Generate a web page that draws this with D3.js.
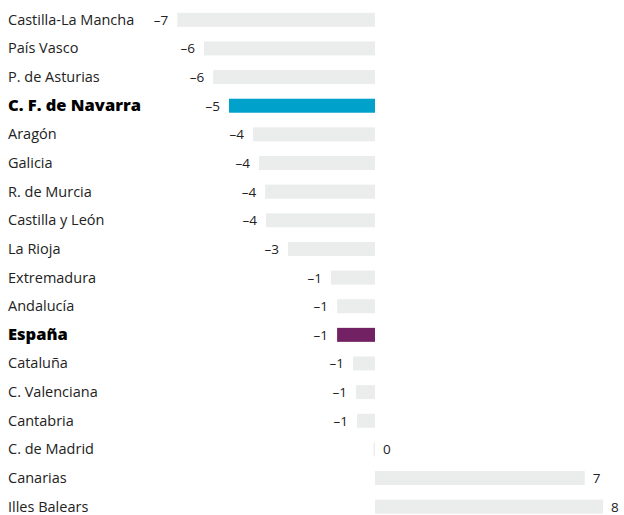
<!DOCTYPE html>
<html lang="es">
<head>
<meta charset="utf-8">
<title>Comunidades</title>
<script src="https://d3js.org/d3.v7.min.js"></script>
<style>
  body { margin: 0; background: #fff; }
  svg text { font-family: "Open Sans", "Noto Sans", sans-serif; }
</style>
</head>
<body>
<script>
// data (labels are rounded, bar lengths are not)
const regions = ["Castilla-La Mancha", "País Vasco", "P. de Asturias", "C. F. de Navarra",
  "Aragón", "Galicia", "R. de Murcia", "Castilla y León", "La Rioja", "Extremadura",
  "Andalucía", "España", "Cataluña", "C. Valenciana", "Cantabria", "C. de Madrid",
  "Canarias", "Illes Balears"];
const values = [-6.73, -5.82, -5.51, -4.97, -4.15, -3.95, -3.74, -3.71, -2.96, -1.5,
  -1.29, -1.29, -0.75, -0.65, -0.61, -0.05, 7.14, 7.76];
const labels = ["–7", "–6", "–6", "–5", "–4", "–4", "–4", "–4", "–3", "–1",
  "–1", "–1", "–1", "–1", "–1", "0", "7", "8"];
const highlight = {"C. F. de Navarra": "#00a1cb", "España": "#722162"};

const width = 624, height = 515;
const barH = 14;

const data = regions.map((r, i) => ({region: r, value: values[i], label: labels[i]}));

const x = d3.scaleLinear().domain([-8, 8]).range([140, 610]);
const y = d3.scalePoint().domain(regions).range([19.8, 506.7]);

const svg = d3.select("body").append("svg")
  .attr("width", width)
  .attr("height", height);

// bars
svg.selectAll("rect.bar")
  .data(data)
  .enter()
  .append("rect")
  .attr("class", "bar")
  .attr("x", d => x(Math.min(0, d.value)))
  .attr("y", d => y(d.region) - barH / 2)
  .attr("width", d => Math.max(1.5, Math.abs(x(d.value) - x(0))))
  .attr("height", barH)
  .attr("fill", d => highlight[d.region] || "#ebecec");

// region names
svg.selectAll("text.name")
  .data(data)
  .enter()
  .append("text")
  .attr("class", "name")
  .attr("x", 8)
  .attr("y", d => y(d.region) + 5)
  .attr("font-size", d => highlight[d.region] ? "16.5px" : "14.5px")
  .attr("font-weight", d => highlight[d.region] ? 800 : "normal")
  .attr("fill", d => highlight[d.region] ? "#000" : "#222")
  .text(d => d.region);

// value labels: rounded negatives on the left, the rest on the right
const neg = d => Math.round(d.value) < 0;
svg.selectAll("text.val")
  .data(data)
  .enter()
  .append("text")
  .attr("class", "val")
  .attr("x", d => neg(d) ? x(d.value) - 9 : x(Math.max(0, d.value)) + 8)
  .attr("y", d => y(d.region) + 5)
  .attr("text-anchor", d => neg(d) ? "end" : "start")
  .attr("font-size", "13.5px")
  .attr("fill", "#222")
  .text(d => d.label);
</script>
</body>
</html>
